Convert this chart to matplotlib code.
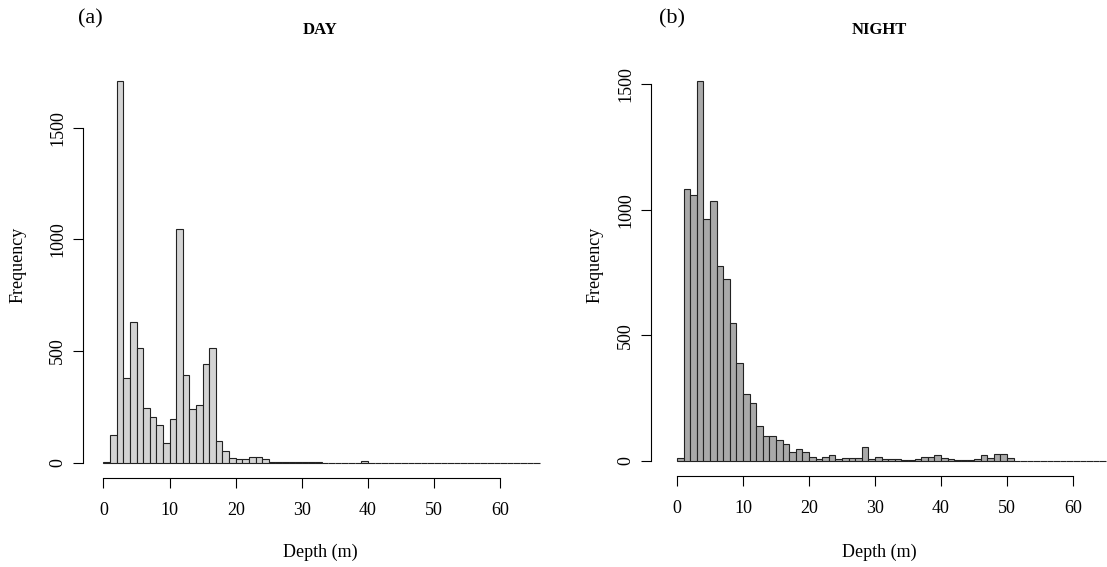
import matplotlib.pyplot as plt
import numpy as np

plt.rcParams['font.family'] = ['Liberation Serif', 'DejaVu Serif']

# 1 m depth bins, counts
day_counts = [3, 126, 1708, 380, 629, 515, 245, 204, 171, 87,
              196, 1045, 395, 241, 260, 443, 515, 96, 51, 21,
              16, 16, 27, 24, 15, 2, 5, 5, 3, 5,
              5, 2, 5, 1, 1, 0, 1, 1, 1, 8,
              1, 0, 0, 0, 0, 0, 0, 0, 0, 0,
              0, 0, 0, 0, 0, 0, 0, 0, 0, 0,
              0, 0, 0, 0, 0, 0]
night_counts = [10, 1085, 1058, 1513, 963, 1036, 776, 726, 548, 389,
                267, 232, 141, 101, 101, 84, 68, 35, 47, 36,
                17, 9, 17, 23, 7, 12, 12, 12, 56, 7,
                16, 9, 9, 9, 3, 3, 9, 15, 15, 23,
                12, 9, 3, 3, 3, 8, 23, 11, 27, 27,
                11, 0, 0, 0, 0, 0, 0, 0, 0, 0,
                0, 0, 0, 0, 0]
x_ticks = [0, 10, 20, 30, 40, 50, 60]
y_ticks = [0, 500, 1000, 1500]

W, H = 1107, 567
fig = plt.figure(figsize=(W / 100, H / 100), dpi=100)


def px_axes(l, t, r, b):
    return fig.add_axes([l / W, (H - b) / H, (r - l) / W, (b - t) / H])


def draw(ax, counts, color, title, tag, tag_x, title_x, ylab_x):
    counts = np.array(counts)
    edges = np.arange(len(counts) + 1)
    ax.bar(edges[:-1], counts, width=1, align='edge', color=color,
           edgecolor='#222222', linewidth=0.8)
    ax.set_xticks(x_ticks)
    ax.set_yticks(y_ticks)
    ax.set_yticklabels([str(v) for v in y_ticks], rotation=90, va='center')
    for s in ['top', 'right']:
        ax.spines[s].set_visible(False)
    ax.spines['bottom'].set_bounds(0, 60)
    ax.spines['left'].set_bounds(0, 1500)
    for s in ['bottom', 'left']:
        ax.spines[s].set_linewidth(0.8)
    ax.tick_params(axis='x', length=7, width=0.8, pad=10, labelsize=13)
    ax.tick_params(axis='y', length=7, width=0.8, pad=5, labelsize=13)
    fig.text(tag_x / W, 1 - 19 / H, tag, fontsize=16, ha='center', va='center')
    fig.text(title_x / W, 1 - 30 / H, title, fontsize=12, fontweight='bold',
             ha='center', va='center')
    fig.text(title_x / W, 1 - 552 / H, 'Depth (m)', fontsize=13,
             ha='center', va='center')
    fig.text(ylab_x / W, 1 - 265 / H, 'Frequency', fontsize=13,
             rotation=90, ha='center', va='center')


ax1 = px_axes(83, 66, 557, 478)
ax1.set_xlim(-3.1, 68.6)
ax1.set_ylim(-68, 1776)
draw(ax1, day_counts, '#d3d3d3', 'DAY', '(a)', 90, 320, 18)

ax2 = px_axes(651, 66, 1107, 476)
ax2.set_xlim(-3.94, 65.15)
ax2.set_ylim(-60, 1573)
draw(ax2, night_counts, '#a9a9a9', 'NIGHT', '(b)', 672, 879, 595)

fig.savefig('out.png', dpi=100)
